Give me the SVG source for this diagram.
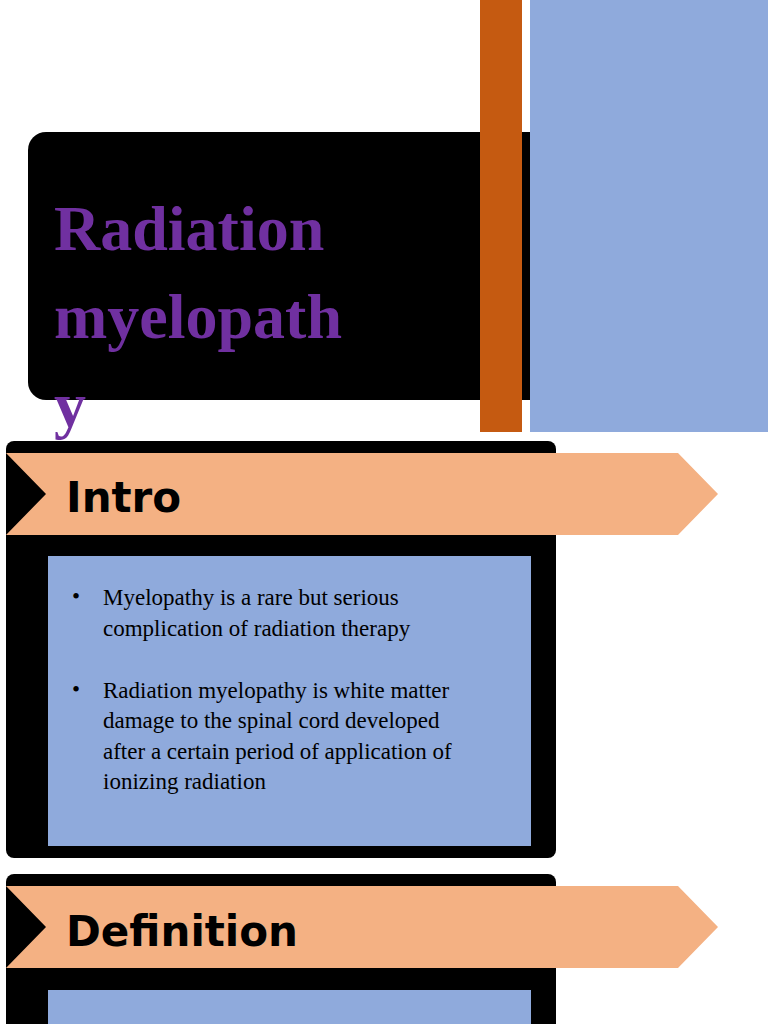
<svg xmlns="http://www.w3.org/2000/svg" width="768" height="1024" viewBox="0 0 768 1024">
<style>
.t{font-family:"Liberation Serif",serif;font-weight:bold;font-size:64px;fill:#7030A0}
.h{font-family:"DejaVu Sans",sans-serif;font-weight:bold;font-size:42px;fill:#000}
.b{font-family:"Liberation Serif",serif;font-size:23px;fill:#000}
</style>
<rect width="768" height="1024" fill="#fff"/>
<g id="title">
<rect x="28" y="132" width="520" height="268" rx="18" fill="#000"/>
<rect x="480" y="0" width="42" height="432" fill="#C55A11"/>
<rect x="530" y="0" width="238" height="432" fill="#8FAADC"/>
<text class="t" x="54" y="250">Radiation</text>
<text class="t" x="54" y="338">myelopath</text>
<text class="t" x="54" y="426">y</text>
</g>
<g id="intro">
<rect x="6" y="441" width="550" height="417" rx="8" fill="#000"/>
<polygon points="6,453 678,453 718,494 678,535 6,535 46,494" fill="#F4B183"/>
<text class="h" x="66" y="512">Intro</text>
<rect x="48" y="556" width="483" height="290" fill="#8FAADC"/>
<g class="b">
<text x="72" y="604">•</text><text x="103" y="605">Myelopathy is a rare but serious</text>
<text x="103" y="636">complication of radiation therapy</text>
<text x="72" y="697">•</text><text x="103" y="698">Radiation myelopathy is white matter</text>
<text x="103" y="728">damage to the spinal cord developed</text>
<text x="103" y="759">after a certain period of application of</text>
<text x="103" y="789">ionizing radiation</text>
</g>
</g>
<g id="definition">
<rect x="6" y="874" width="550" height="170" rx="8" fill="#000"/>
<polygon points="6,886 678,886 718,927 678,968 6,968 46,927" fill="#F4B183"/>
<text class="h" x="66" y="946">Definition</text>
<rect x="48" y="990" width="483" height="40" fill="#8FAADC"/>
</g>
<g id="connectors"/>
</svg>
